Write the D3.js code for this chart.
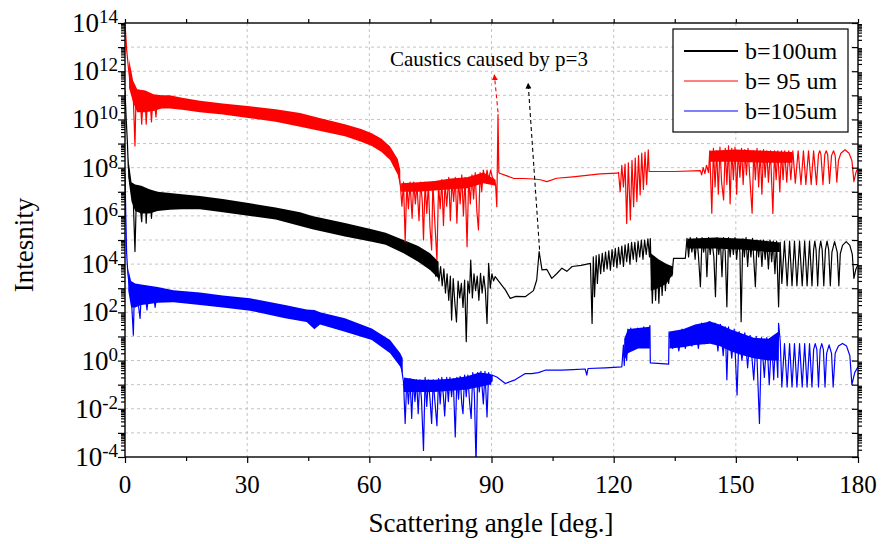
<!DOCTYPE html>
<html>
<head>
<meta charset="utf-8">
<script src="https://cdn.jsdelivr.net/npm/d3@7"></script>
<style>
  body { margin: 0; background: #fff; }
  svg { font-family: "Liberation Serif", "Times New Roman", serif; }
</style>
</head>
<body>
<svg id="chart" width="882" height="544"></svg>
<script>
// values: [angle in deg, log10(intensity)]
// bands are the dense noise: [angle, low, high] (log10)

const xTicks = [0, 30, 60, 90, 120, 150, 180];
const xMinor = [15, 45, 75, 105, 135, 165];
const yLabelExp = [-4, -2, 0, 2, 4, 6, 8, 10, 12, 14];

const seriesNames = ['b=100um', 'b= 95 um', 'b=105um'];

// b = 100 um (black)
const blackBand = [
  [[0.8, 7.6, 8.4], [1.6, 6.6, 7.4], [2.5, 6.2, 7.3], [4.0, 6.1, 7.25], [6.0, 6.1, 7.1], [8.0, 6.2, 7.0],
   [11.0, 6.25, 6.95], [14.0, 6.28, 6.9], [18.4, 6.28, 6.82], [24.0, 6.15, 6.7], [30.7, 6.0, 6.52],
   [37.0, 5.85, 6.35], [43.0, 5.58, 6.15], [46.0, 5.45, 6.0], [54.0, 5.14, 5.7], [60.6, 4.93, 5.45],
   [64.0, 4.8, 5.3], [68.4, 4.45, 5.0], [72.0, 4.1, 4.75], [74.9, 3.76, 4.45], [77.0, 3.4, 4.1]],
  [[129.1, 2.9, 4.45], [131.0, 3.0, 4.2], [133.0, 3.2, 4.0], [134.6, 3.6, 3.9]],
  [[138.1, 4.65, 5.05], [145.0, 4.65, 5.1], [152.0, 4.6, 5.05], [158.0, 4.5, 4.95], [160.8, 4.5, 4.9]]
];
const blackLine = [
  [0, 11.2], [0.3, 10.0], [0.6, 9.0], [0.8, 8.05], [1.2, 7.4], [1.6, 7.0], [2.0, 6.8], [2.45, 4.52],
  [2.8, 6.8], [3.5, 6.7], [4.1, 5.76], [4.4, 6.7], [5.0, 6.7], [5.2, 5.7], [5.5, 6.7], [6.2, 6.7],
  [6.5, 5.9], [6.8, 6.6], [7.5, 6.6], [11.0, 6.6], [18.4, 6.55], [24.0, 6.43], [30.7, 6.26], [37.0, 6.1],
  [43.0, 5.87], [46.0, 5.72], [54.0, 5.42], [60.6, 5.18], [64.0, 5.05], [68.4, 4.72], [72.0, 4.42],
  [74.9, 4.1], [75.5, 3.7], [75.9, 4.2], [76.3, 3.5], [76.7, 4.0], [77.1, 3.3], [77.5, 3.9], [77.9, 3.1],
  [78.3, 3.8], [78.7, 2.8], [79.1, 3.6], [79.5, 2.5], [79.9, 3.5], [80.2, 1.68], [80.6, 3.4], [81.0, 2.4],
  [81.4, 1.6], [81.8, 3.3], [82.2, 2.6], [82.6, 3.2], [83.0, 2.2], [83.4, 3.34], [83.8, 0.78], [84.2, 3.3],
  [84.6, 2.8], [84.9, 4.17], [85.3, 2.6], [85.7, 3.6], [86.1, 2.9], [86.5, 3.5], [86.9, 2.5], [87.3, 3.62],
  [87.7, 2.8], [88.1, 3.5], [88.5, 2.9], [88.9, 1.54], [89.3, 4.03], [89.7, 3.0], [90.1, 3.6], [90.5, 3.3],
  [90.9, 3.48], [93.4, 2.93],
  [94.6, 2.58], [96.0, 2.66], [98.3, 2.65], [100.3, 2.9], [101.1, 3.34], [101.7, 4.52], [102.4, 3.76],
  [103.6, 3.78], [104.8, 3.41], [106.0, 3.6], [107.3, 3.83], [108.5, 3.7], [109.8, 3.9], [112.0, 3.95],
  [114.3, 4.03], [114.7, 1.54], [115.0, 4.3], [115.3, 2.65], [115.7, 4.35], [116.0, 3.2], [116.4, 4.4],
  [116.8, 3.6], [117.2, 4.45], [117.6, 3.7], [118.0, 4.5], [118.4, 3.8], [118.8, 4.55], [119.2, 3.75],
  [119.6, 4.6], [120.0, 3.9], [120.4, 4.65], [120.8, 3.85], [121.2, 4.7], [121.6, 4.0], [122.0, 4.75],
  [122.4, 3.9], [122.8, 4.8], [123.2, 4.1], [123.6, 4.85], [124.0, 4.0], [124.4, 4.9], [124.8, 4.2],
  [125.2, 4.9], [125.6, 4.1], [126.0, 4.95], [126.4, 4.3], [126.8, 5.0], [127.2, 4.2], [127.6, 5.0],
  [128.0, 4.4], [128.4, 5.05], [128.8, 4.3], [129.0, 5.06], [129.1, 4.4], [129.5, 2.38], [129.9, 4.3],
  [130.3, 2.5], [130.7, 4.2], [131.1, 2.38], [131.5, 4.1], [131.9, 2.7], [132.3, 4.0], [132.7, 2.9],
  [133.1, 3.95], [133.5, 3.2], [133.9, 3.9], [134.3, 3.5], [134.7, 4.24], [137.6, 4.24], [138.0, 5.07],
  [138.4, 4.3], [138.8, 5.1], [139.2, 4.5], [139.6, 5.0], [140.0, 4.2], [140.4, 5.1], [140.8, 4.4],
  [141.3, 3.06], [141.7, 5.1], [142.1, 4.5], [142.5, 5.05], [142.9, 3.48], [143.3, 5.1], [143.7, 4.4],
  [144.1, 5.0], [144.6, 4.3], [145.0, 2.65], [145.4, 5.1], [145.8, 4.4], [146.2, 5.0], [146.6, 3.48],
  [147.0, 5.1], [147.4, 4.5], [147.8, 2.23], [148.2, 5.1], [148.6, 4.3], [149.0, 5.0], [149.4, 4.4],
  [149.8, 5.1], [150.2, 4.2], [150.6, 5.0], [151.0, 4.5], [151.3, 1.61], [151.7, 5.05], [152.1, 4.3],
  [152.5, 5.1], [152.9, 3.9], [153.3, 5.0], [153.7, 4.3], [154.1, 5.07], [154.8, 3.06], [155.2, 5.0],
  [155.6, 4.3], [156.0, 5.0], [156.4, 3.9], [156.8, 5.0], [157.2, 4.2], [157.6, 4.95], [158.0, 3.8],
  [158.4, 5.0], [158.8, 4.1], [159.2, 4.95], [159.6, 3.6], [160.0, 4.95], [160.5, 2.23], [160.9, 4.9],
  [161.3, 3.2], [161.95, 4.95], [162.6, 3.1], [163.2, 4.95], [163.8, 3.1], [164.4, 4.95], [165.0, 3.1],
  [165.65, 4.95], [166.3, 3.1], [166.9, 4.95], [167.5, 3.1], [168.1, 4.95], [168.7, 3.1], [169.1, 4.6],
  [169.4, 4.95], [169.7, 4.6], [170.1, 3.1], [170.5, 4.6], [170.85, 4.95], [171.2, 4.6], [171.6, 3.1],
  [172.0, 4.6], [172.4, 4.95], [172.8, 4.6], [173.2, 3.1], [173.6, 4.5], [174.25, 4.93], [174.9, 4.5],
  [175.3, 3.1], [175.65, 4.43], [176.2, 4.78], [177.1, 4.93], [178.0, 4.78], [178.6, 4.4], [179.0, 3.41],
  [179.5, 3.8], [180.0, 3.96]
];

// b = 95 um (red)
const redBand = [
  [[1.0, 11.3, 12.5], [2.0, 10.7, 11.6], [3.0, 10.3, 11.25], [5.0, 10.3, 11.2], [7.0, 10.35, 11.05],
   [9.0, 10.45, 11.0], [11.0, 10.45, 11.0], [14.0, 10.4, 10.9], [18.4, 10.3, 10.78], [24.0, 10.2, 10.66],
   [30.7, 10.05, 10.55], [37.0, 9.9, 10.42], [43.0, 9.7, 10.27], [48.0, 9.52, 10.05], [54.0, 9.3, 9.8],
   [58.0, 9.07, 9.6], [60.6, 8.9, 9.43], [63.0, 8.65, 9.2], [65.1, 8.32, 8.88], [67.0, 7.7, 8.35],
   [67.6, 7.2, 7.9]],
  [[67.8, 7.0, 7.35], [72.0, 7.0, 7.4], [76.0, 7.05, 7.45], [80.0, 7.1, 7.55], [84.0, 7.15, 7.6],
   [88.0, 7.35, 7.8], [91.0, 7.25, 7.5]],
  [[143.6, 8.25, 8.7], [150.0, 8.25, 8.75], [157.0, 8.2, 8.7], [163.8, 8.2, 8.65]]
];
const redLine = [
  [0, 14.0], [0.4, 12.9], [0.8, 12.2], [1.2, 11.6], [1.6, 11.4], [2.0, 11.1], [2.45, 8.9], [2.7, 10.9],
  [3.2, 10.8], [3.8, 10.7], [4.1, 9.8], [4.4, 10.7], [5.0, 10.7], [5.2, 9.8], [5.5, 10.7], [6.2, 10.7],
  [6.5, 9.9], [6.8, 10.7], [7.3, 10.65], [7.6, 10.1], [7.9, 10.7], [11.9, 10.73], [18.4, 10.53],
  [24.0, 10.42], [30.7, 10.28], [37.0, 10.15], [43.0, 9.98], [48.0, 9.78], [54.0, 9.53], [58.0, 9.32],
  [60.6, 9.15], [63.0, 8.92], [65.1, 8.6], [67.0, 8.0], [67.6, 7.3], [68.0, 6.4], [68.4, 7.4], [68.8, 4.93],
  [69.2, 7.3], [69.6, 6.3], [70.0, 7.4], [70.5, 5.9], [70.9, 7.4], [71.3, 6.5], [71.7, 7.3], [72.2, 5.8],
  [72.6, 7.4], [73.0, 6.6], [73.3, 5.0], [73.7, 7.4], [74.1, 6.1], [74.5, 7.3], [74.9, 5.5], [75.3, 4.59],
  [75.6, 7.4], [76.0, 6.0], [76.6, 4.17], [77.0, 7.3], [77.4, 6.3], [77.8, 7.5], [78.2, 5.6], [78.6, 7.4],
  [79.0, 6.4], [79.5, 7.6], [79.9, 5.8], [80.3, 7.5], [80.7, 6.6], [81.1, 7.6], [81.5, 5.7], [81.9, 7.5],
  [82.3, 6.5], [82.7, 7.7], [83.1, 6.0], [83.5, 7.6], [84.0, 4.72], [84.4, 7.6], [84.8, 6.5], [85.2, 7.7],
  [85.6, 6.7], [86.0, 7.8], [86.4, 6.2], [86.8, 5.42], [87.2, 7.8], [87.6, 7.0], [88.0, 7.9], [88.5, 7.4],
  [88.9, 7.9], [89.3, 7.5], [89.8, 7.9], [90.2, 7.6], [90.6, 7.5], [91.0, 7.3], [91.3, 6.38], [91.6, 10.2],
  [91.8, 7.8], [92.0, 7.77], [95.4, 7.56], [98.0, 7.55], [100.3, 7.53], [102.0, 7.5], [103.6, 7.42],
  [106.0, 7.56], [110.0, 7.62], [116.7, 7.74], [120.8, 7.77], [121.2, 7.8], [121.6, 7.0], [122.0, 8.1],
  [122.4, 7.2], [122.8, 8.15], [123.2, 5.69], [123.6, 8.2], [124.1, 5.83], [124.5, 8.3], [124.9, 6.38],
  [125.3, 8.4], [125.7, 6.6], [126.1, 8.5], [126.5, 6.87], [126.9, 8.6], [127.3, 7.1], [127.7, 8.65],
  [128.1, 7.3], [128.5, 8.74], [128.7, 7.84], [135.0, 7.84], [141.3, 7.88], [141.6, 7.7], [142.0, 8.0],
  [142.4, 7.75], [142.8, 8.1], [143.3, 7.8], [143.6, 8.7], [144.1, 6.11], [144.5, 8.8], [144.9, 7.2],
  [145.3, 8.7], [145.7, 6.9], [146.1, 8.85], [146.5, 7.4], [147.0, 6.66], [147.4, 8.8], [147.8, 7.3],
  [148.2, 8.9], [148.6, 6.5], [149.0, 8.8], [149.4, 7.5], [149.8, 8.85], [150.2, 6.9], [150.6, 8.7],
  [151.0, 7.6], [151.4, 8.8], [151.8, 7.3], [152.2, 8.75], [152.6, 7.7], [153.0, 8.8], [153.5, 7.4],
  [154.0, 6.11], [154.4, 8.7], [154.8, 7.5], [155.2, 8.8], [155.6, 7.2], [156.0, 8.7], [156.4, 6.9],
  [156.8, 8.75], [157.2, 7.6], [157.6, 8.7], [158.0, 7.4], [158.5, 8.7], [159.1, 6.1], [159.5, 8.7],
  [159.9, 7.5], [160.3, 8.7], [160.8, 7.0], [161.2, 8.7], [161.6, 7.5], [162.0, 8.7], [162.5, 7.4],
  [163.0, 8.7], [163.5, 7.5], [164.0, 8.7], [164.6, 7.36], [165.3, 8.7], [166.0, 7.3], [166.6, 8.7],
  [167.2, 7.3], [167.85, 8.7], [168.5, 7.3], [169.1, 8.7], [169.8, 7.3], [170.3, 8.55], [170.6, 8.7],
  [170.9, 8.55], [171.4, 7.3], [171.85, 8.55], [172.2, 8.7], [172.55, 8.55], [173.0, 7.35], [173.5, 8.5],
  [174.0, 8.7], [174.4, 8.5], [174.8, 7.4], [175.2, 8.3], [175.8, 8.6], [176.8, 8.74], [177.8, 8.6],
  [178.5, 8.3], [179.0, 7.42], [179.5, 7.8], [180.0, 8.0]
];

// b = 105 um (blue)
const blueBand = [
  [[0.8, 2.9, 3.8], [1.5, 2.2, 3.3], [2.5, 2.2, 3.2], [4.0, 2.3, 3.15], [6.0, 2.35, 3.1], [8.0, 2.4, 3.05],
   [11.9, 2.42, 2.92], [18.4, 2.3, 2.82], [24.0, 2.2, 2.7], [30.7, 2.07, 2.58], [39.3, 1.75, 2.3],
   [44.6, 1.6, 2.12], [46.5, 1.3, 2.1], [47.9, 1.5, 2.0], [54.0, 1.19, 1.75], [60.6, 0.85, 1.33],
   [65.1, 0.3, 0.85], [67.6, -0.26, 0.3], [68.2, -0.6, 0.1]],
  [[68.5, -1.3, -0.7], [72.0, -1.3, -0.8], [76.0, -1.3, -0.8], [80.0, -1.25, -0.75], [84.0, -1.2, -0.65],
   [87.0, -1.1, -0.5], [89.5, -1.0, -0.55], [90.3, -0.85, -0.6]],
  [[122.6, 0.0, 0.9], [123.5, 0.3, 1.3], [126.0, 0.5, 1.35], [128.9, 0.5, 1.4]],
  [[133.7, 0.5, 1.2], [137.0, 0.55, 1.3], [140.0, 0.65, 1.5], [143.7, 0.7, 1.62], [146.0, 0.6, 1.5],
   [148.6, 0.4, 1.3], [151.0, 0.25, 1.15], [154.4, 0.1, 0.95], [158.0, 0.0, 0.9], [160.5, 0.0, 1.2]]
];
const blueLine = [
  [0, 7.77], [0.2, 6.0], [0.4, 4.45], [0.7, 3.6], [1.0, 3.2], [1.5, 2.8], [2.05, 1.05], [2.3, 2.8],
  [3.0, 2.7], [3.7, 1.75], [4.0, 2.75], [5.0, 2.7], [5.4, 2.1], [5.8, 2.75], [7.0, 2.7], [7.4, 2.2],
  [7.8, 2.7], [11.9, 2.67], [18.4, 2.55], [24.0, 2.45], [30.7, 2.33], [39.3, 2.02], [44.6, 1.85],
  [46.5, 1.6], [47.9, 1.75], [54.0, 1.47], [60.6, 1.09], [65.1, 0.57], [67.6, 0.02], [68.4, -0.9],
  [68.8, -2.61], [69.2, -0.8], [69.6, -1.8], [70.0, -0.75], [70.4, -2.4], [70.8, -0.8], [71.2, -1.7],
  [71.6, -0.8], [72.0, -2.2], [72.4, -0.8], [72.8, -1.6], [73.3, -3.73], [73.7, -0.7], [74.1, -1.9],
  [74.5, -0.8], [74.9, -1.6], [75.3, -2.61], [75.7, -0.8], [76.1, -1.7], [76.6, -2.7], [77.0, -0.75],
  [77.4, -1.8], [77.8, -0.7], [78.2, -1.5], [78.5, -2.3], [79.0, -0.7], [79.4, -1.7], [79.8, -0.7],
  [80.2, -1.5], [80.6, -0.75], [81.1, -3.17], [81.5, -0.7], [81.9, -1.6], [82.3, -0.65], [82.7, -1.8],
  [83.0, -2.2], [83.4, -0.6], [83.8, -1.5], [84.2, -0.6], [84.6, -1.7], [85.0, -2.4], [85.4, -0.5],
  [85.8, -1.4], [86.2, -4.3], [86.6, -0.5], [87.0, -1.3], [87.4, -0.45], [88.0, -1.8], [88.4, -0.45],
  [88.9, -2.34], [89.3, -0.5], [89.7, -1.0], [90.1, -0.6], [91.3, -0.68],
  [93.4, -0.95], [95.8, -0.8], [98.3, -0.54], [99.9, -0.54], [101.5, -0.5], [103.2, -0.4], [107.3, -0.4],
  [110.0, -0.38], [113.0, -0.35], [113.4, -0.6], [113.7, -0.33], [118.0, -0.3], [122.0, -0.26],
  [122.4, 0.64], [122.6, -0.2], [122.9, 0.9], [123.2, 0.0], [123.5, 1.3], [123.8, 0.4], [124.2, 1.35],
  [124.6, 0.6], [125.0, 1.3], [125.4, 0.5], [125.8, 1.35], [126.2, 0.7], [126.6, 1.3], [127.0, 0.6],
  [127.4, 1.4], [127.8, 0.7], [128.2, 1.35], [128.6, 0.8], [128.9, 1.45], [129.0, -0.1], [133.5, -0.15],
  [133.6, 1.19], [134.5, 0.5], [135.2, 1.2], [136.0, 0.4], [136.8, 1.3], [137.6, 0.5], [138.4, 1.3],
  [139.2, 0.6], [140.0, 1.45], [140.8, 0.5], [141.6, 1.55], [142.4, 0.7], [143.2, 1.6], [143.7, 1.61],
  [144.2, 0.8], [144.9, 1.55], [145.6, 0.4], [146.2, 1.5], [146.9, 0.2], [147.4, 1.4], [147.8, -0.8],
  [148.2, 1.4], [149.0, 0.1], [149.6, 1.3], [150.3, -1.43], [150.8, 1.2], [151.5, 0.0], [152.2, 1.15],
  [152.9, -0.3], [153.5, 1.05], [154.4, -0.8], [155.0, 1.0], [155.8, -2.61], [156.3, 0.95], [157.0, -0.7],
  [157.6, 0.95], [158.2, -1.0], [158.8, 0.9], [159.3, -0.8], [159.8, 1.0], [160.3, -0.7], [160.5, 1.54],
  [160.9, 0.8], [161.3, -1.1], [161.95, 0.7], [162.6, -1.1], [163.2, 0.7], [163.8, -1.1], [164.4, 0.7],
  [165.0, -1.1], [165.65, 0.7], [166.3, -1.1], [166.9, 0.7], [167.5, -1.1], [168.1, 0.7], [168.7, -1.1],
  [169.1, 0.45], [169.5, 0.7], [169.9, 0.45], [170.3, -1.1], [170.7, 0.45], [171.1, 0.7], [171.5, 0.45],
  [171.9, -1.1], [172.3, 0.3], [172.9, 0.65], [173.5, 0.3], [173.9, -1.1], [174.4, 0.3], [175.2, 0.6],
  [176.2, 0.71], [177.2, 0.6], [178.0, 0.2], [178.5, -1.0], [179.2, -0.5], [180.0, -0.26]
];

// annotation arrows: [from, to] in [deg, log10]
const arrowRed = [[91.6, 10.3], [90.7, 11.85]];
const arrowBlack = [[101.8, 4.6], [99.0, 11.5]];

const series = [
  { name: seriesNames[0], color: '#000000', band: blackBand, line: blackLine, legW: 2 },
  { name: seriesNames[1], color: '#ff0000', band: redBand, line: redLine, legW: 1 },
  { name: seriesNames[2], color: '#0000ff', band: blueBand, line: blueLine, legW: 1 }
];

let svg = d3.select('#chart');
let margin = { top: 23, right: 24, bottom: 87, left: 125 };
let w = 882 - margin.left - margin.right;
let h = 544 - margin.top - margin.bottom;
let g = svg.append('g').attr('transform', `translate(${margin.left},${margin.top})`);

let x = d3.scaleLinear().domain([0, 180]).range([0, w]);
let y = d3.scaleLog().domain([1e-4, 1e14]).range([h, 0]);
let p10 = e => Math.pow(10, e);

svg.append('defs').append('clipPath').attr('id', 'clip')
  .append('rect').attr('width', w).attr('height', h);

// grid
let decades = d3.range(-3, 14).map(p10);
g.append('g').selectAll('line').data(decades).join('line')
  .attr('x1', 0).attr('x2', w)
  .attr('y1', d => y(d)).attr('y2', d => y(d))
  .attr('stroke', '#c4c4c4').attr('stroke-dasharray', '3,3');
g.append('g').selectAll('line').data(xTicks.slice(1, -1)).join('line')
  .attr('x1', d => x(d)).attr('x2', d => x(d))
  .attr('y1', 0).attr('y2', h)
  .attr('stroke', '#c4c4c4').attr('stroke-dasharray', '3,3');

// curves
let area = d3.area()
  .x(d => x(d[0]))
  .y0(d => y(p10(d[1])))
  .y1(d => y(p10(d[2])));
let line = d3.line()
  .x(d => x(d[0]))
  .y(d => y(p10(d[1])));

let plot = g.append('g').attr('clip-path', 'url(#clip)');
series.forEach(s => {
  plot.append('g').selectAll('path').data(s.band).join('path')
    .attr('d', area)
    .attr('fill', s.color);
  plot.append('path')
    .datum(s.line)
    .attr('d', line)
    .attr('fill', 'none')
    .attr('stroke', s.color)
    .attr('stroke-width', 1.2)
    .attr('stroke-linejoin', 'round');
});

// axes
let minors = [];
d3.range(-4, 14).forEach(e => {
  for (let k = 2; k <= 9; k++) minors.push(k * p10(e));
});

function styleAxis(sel) {
  sel.select('.domain').remove();
  sel.selectAll('line').attr('stroke', '#000').attr('stroke-width', 1.2);
}

g.append('g').attr('transform', `translate(0,${h})`)
  .call(d3.axisBottom(x).tickValues(xTicks).tickSize(6).tickFormat(''))
  .call(styleAxis);
g.append('g').attr('transform', `translate(0,${h})`)
  .call(d3.axisBottom(x).tickValues(xMinor).tickSize(4).tickFormat(''))
  .call(styleAxis);
g.append('g')
  .call(d3.axisTop(x).tickValues(xTicks.concat(xMinor)).tickSize(4).tickFormat(''))
  .call(styleAxis);
g.append('g')
  .call(d3.axisLeft(y).tickValues(d3.range(-4, 15).map(p10)).tickSize(7).tickFormat(''))
  .call(styleAxis);
g.append('g')
  .call(d3.axisLeft(y).tickValues(minors).tickSize(4).tickFormat(''))
  .call(styleAxis);
g.append('g').attr('transform', `translate(${w},0)`)
  .call(d3.axisRight(y).tickValues(d3.range(-4, 15).map(p10)).tickSize(-6).tickFormat(''))
  .call(styleAxis);
g.append('g').attr('transform', `translate(${w},0)`)
  .call(d3.axisRight(y).tickValues(minors).tickSize(4).tickFormat(''))
  .call(styleAxis);

g.append('rect')
  .attr('width', w).attr('height', h)
  .attr('fill', 'none').attr('stroke', '#000').attr('stroke-width', 1.4);

// tick labels
g.append('g').selectAll('text').data(xTicks).join('text')
  .attr('x', d => x(d)).attr('y', h + 36)
  .attr('text-anchor', 'middle')
  .attr('font-size', 25)
  .text(d => d);

let yLab = g.append('g').selectAll('text').data(yLabelExp).join('text')
  .attr('x', -7).attr('y', d => y(p10(d)) + 9)
  .attr('text-anchor', 'end')
  .attr('font-size', 27);
yLab.append('tspan').text('10');
yLab.append('tspan').attr('dy', -9).attr('font-size', 19).text(d => d);

// axis titles
g.append('text')
  .attr('x', 366).attr('y', h + 75)
  .attr('text-anchor', 'middle').attr('font-size', 27)
  .text('Scattering angle [deg.]');
g.append('text')
  .attr('transform', `translate(${33 - margin.left},${245 - margin.top}) rotate(-90)`)
  .attr('text-anchor', 'middle').attr('font-size', 27)
  .text('Intesnity');

// annotation
let defs = svg.select('defs');
[['arRed', '#ff0000'], ['arBlack', '#000000']].forEach(([id, c]) => {
  defs.append('marker').attr('id', id)
    .attr('viewBox', '0 0 10 10').attr('refX', 9).attr('refY', 5)
    .attr('markerWidth', 6).attr('markerHeight', 8)
    .attr('markerUnits', 'userSpaceOnUse')
    .attr('orient', 'auto')
    .append('path').attr('d', 'M0,0 L10,5 L0,10 Z').attr('fill', c);
});
[[arrowRed, '#ff0000', 'arRed'], [arrowBlack, '#000000', 'arBlack']].forEach(([a, c, id]) => {
  g.append('line')
    .attr('x1', x(a[0][0])).attr('y1', y(p10(a[0][1])))
    .attr('x2', x(a[1][0])).attr('y2', y(p10(a[1][1])))
    .attr('stroke', c).attr('stroke-width', 1.1)
    .attr('stroke-dasharray', '4,3')
    .attr('marker-end', `url(#${id})`);
});
g.append('text')
  .attr('x', 265).attr('y', 43)
  .attr('font-size', 21)
  .text('Caustics caused by p=3');

// legend
let leg = g.append('g').attr('transform', 'translate(548,6)');
leg.append('rect')
  .attr('width', 175).attr('height', 103)
  .attr('fill', '#fff').attr('stroke', '#000').attr('stroke-width', 1.2);
let items = leg.selectAll('g').data(series).join('g')
  .attr('transform', (d, i) => `translate(0,${22 + i * 30})`);
items.append('line')
  .attr('x1', 11).attr('x2', 65)
  .attr('stroke', d => d.color).attr('stroke-width', d => d.legW);
items.append('text')
  .attr('x', 72).attr('y', 8)
  .attr('font-size', 24)
  .style('white-space', 'pre')
  .text(d => d.name);
</script>
</body>
</html>
